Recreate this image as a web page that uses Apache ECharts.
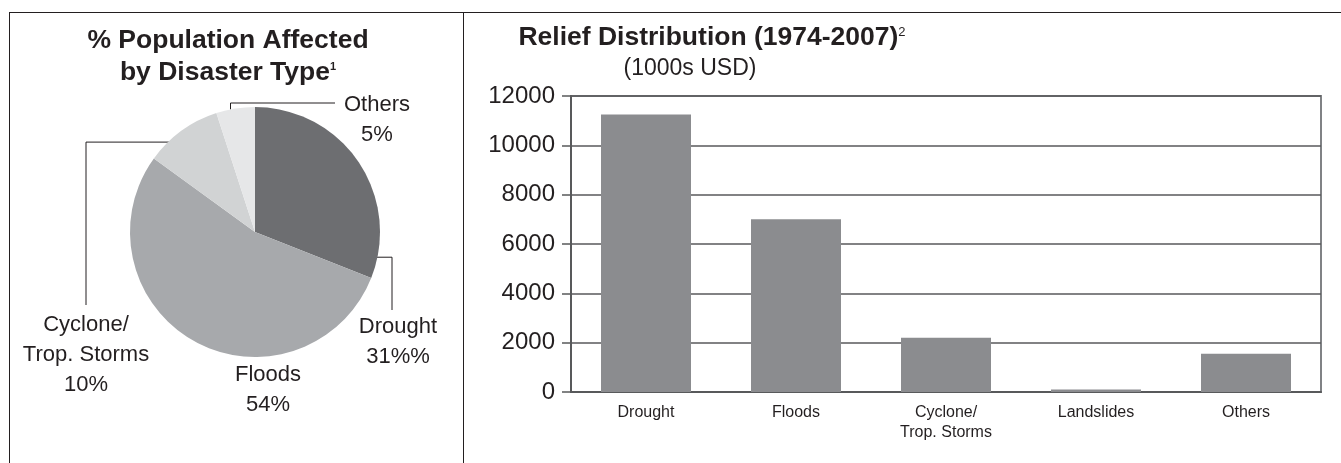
<!DOCTYPE html>
<html>
<head>
<meta charset="utf-8">
<script src="https://cdn.jsdelivr.net/npm/echarts@6/dist/echarts.min.js"></script>
<style>
  html, body { margin: 0; padding: 0; background: #fff; }
  #wrap { position: relative; width: 1341px; height: 463px; overflow: hidden; }
  #chart { position: absolute; left: 0; top: 0; width: 1341px; height: 463px; }
  /* frame round the two panels */
  .frame { position: absolute; left: 9px; top: 12px; width: 1400px; height: 500px;
           border-left: 1px solid #231f20; border-top: 1px solid #231f20; }
  .divider { position: absolute; left: 463px; top: 12px; width: 1px; height: 460px; background: #231f20; }
</style>
</head>
<body>
<div id="wrap">
  <div class="frame"></div>
  <div class="divider"></div>
  <div id="chart"></div>
</div>
<script>
// pie: % population affected by disaster type
var pieNames = ['Drought', 'Floods', 'Cyclone/\nTrop. Storms', 'Others'];
var pieValues = [31, 54, 10, 5];
var pieValueText = ['31%%', '54%', '10%', '5%'];

// bars: relief distribution 1974-2007 (1000s USD)
var barCategories = ['Drought', 'Floods', 'Cyclone/\nTrop. Storms', 'Landslides', 'Others'];
var barValues = [11250, 7000, 2200, 100, 1550];
var yMin = 0, yMax = 12000, yStep = 2000;

var pieColors = ['#6d6e71', '#a7a9ac', '#d1d3d4', '#e6e7e8'];
var ink = '#231f20';
var font = '"Liberation Sans", Arial, Helvetica, sans-serif';

var pieCenter = [255, 232];
var pieRadius = 125;

// where each pie label sits, and its elbow leader line
function polar(deg, f) {
  // deg clockwise from 12 o'clock
  var a = deg * Math.PI / 180;
  return [pieCenter[0] + Math.sin(a) * pieRadius * f, pieCenter[1] - Math.cos(a) * pieRadius * f];
}
var labelSpots = [
  { x: 398, y: 342, from: polar(104.6, 0.8), elbow: 'h', to: [392, 310] },
  { x: 268, y: 390 },
  { x: 86, y: 355, from: polar(-40.8, 0.95), elbow: 'h', to: [86, 305] },
  { x: 377, y: 120, from: polar(-11.3, 1.0), elbow: 'v', to: [335, 103] }
];

var pieData = pieNames.map(function (n, i) {
  return {
    name: n,
    value: pieValues[i],
    itemStyle: { color: pieColors[i] },
    labelLine: { show: !!labelSpots[i].from }
  };
});

var chart = echarts.init(document.getElementById('chart'));
var option = {
  animation: false,
  textStyle: { fontFamily: font },
  title: [
    {
      text: '% Population Affected\nby Disaster Type{sup|1}',
      left: 228, top: 25, padding: 0, textAlign: 'center',
      textStyle: {
        fontSize: 26.5, fontWeight: 'bold', color: ink, lineHeight: 32, fontFamily: font,
        rich: { sup: { fontSize: 11, padding: [0, 0, 12, 0], color: ink, fontFamily: font } }
      }
    },
    {
      text: 'Relief Distribution (1974-2007){sup|2}',
      left: 712, top: 23, padding: 0, textAlign: 'center',
      textStyle: {
        fontSize: 26.5, fontWeight: 'bold', color: ink, lineHeight: 30, fontFamily: font,
        rich: { sup: { fontSize: 13, fontWeight: 'normal', padding: [0, 0, 12, 0], color: ink, fontFamily: font } }
      }
    },
    {
      text: '(1000s USD)',
      left: 690, top: 57, padding: 0, textAlign: 'center',
      textStyle: { fontSize: 23, fontWeight: 'normal', color: ink, fontFamily: font }
    }
  ],
  grid: {
    left: 571, right: 20, top: 96, bottom: 71,
    show: true, borderColor: '#808285', borderWidth: 2, backgroundColor: 'transparent'
  },
  xAxis: {
    type: 'category',
    data: barCategories,
    axisLine: { lineStyle: { color: '#58595b', width: 2 } },
    axisTick: { show: false },
    axisLabel: { color: ink, fontSize: 16, lineHeight: 20, margin: 11, fontFamily: font, interval: 0 }
  },
  yAxis: {
    type: 'value',
    min: yMin, max: yMax, interval: yStep,
    axisLine: { show: true, lineStyle: { color: '#58595b', width: 2 } },
    axisTick: { show: true, length: 9, lineStyle: { color: '#58595b', width: 1.5 } },
    axisLabel: {
      color: ink, fontSize: 24, margin: 16, fontFamily: font,
      formatter: function (v) { return String(v); }
    },
    splitLine: { show: true, lineStyle: { color: '#58595b', width: 1.5 } }
  },
  series: [
    {
      type: 'pie',
      center: pieCenter,
      radius: pieRadius,
      startAngle: 90,
      clockwise: true,
      avoidLabelOverlap: false,
      data: pieData,
      itemStyle: { borderWidth: 0 },
      emphasis: { disabled: true },
      label: {
        show: true,
        position: 'outside',
        color: ink,
        fontSize: 22,
        lineHeight: 30,
        fontFamily: font,
        align: 'center',
        formatter: function (p) { return p.name + '\n' + pieValueText[p.dataIndex]; }
      },
      labelLine: { show: true, lineStyle: { color: ink, width: 1 } },
      labelLayout: function (p) {
        var s = labelSpots[p.dataIndex];
        var out = { x: s.x, y: s.y, align: 'center', verticalAlign: 'middle' };
        if (s.from) {
          var mid = s.elbow === 'h' ? [s.to[0], s.from[1]] : [s.from[0], s.to[1]];
          out.labelLinePoints = [s.from, mid, s.to];
        }
        return out;
      }
    },
    {
      type: 'bar',
      data: barValues,
      barWidth: 90,
      itemStyle: { color: '#8b8c8f' },
      emphasis: { disabled: true }
    }
  ]
};
chart.setOption(option);
</script>
</body>
</html>
